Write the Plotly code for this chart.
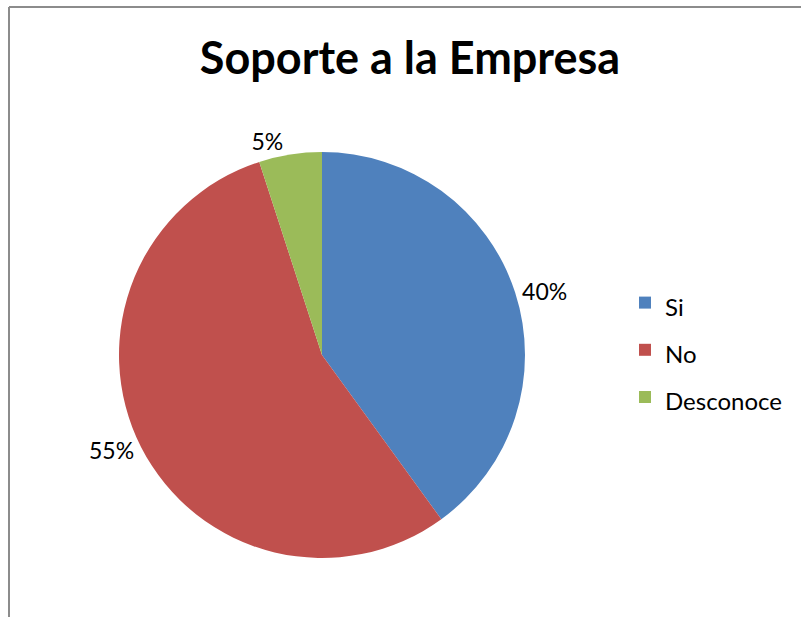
import plotly.graph_objects as go

categories = ["Si", "No", "Desconoce"]
values = [40, 55, 5]
colors = ["#4F81BD", "#C0504D", "#9BBB59"]
title_text = "Soporte a la Empresa"

W, H = 801, 617
cx, cy, r = 322, 355, 203

legend_labels = ['<span style="font-size:24px">%s</span>' % c for c in categories]

fig = go.Figure(go.Pie(
    labels=legend_labels,
    values=values,
    marker=dict(colors=colors, line=dict(width=0)),
    sort=False,
    direction="clockwise",
    rotation=0,
    textinfo="percent",
    texttemplate="%{percent:.0%}",
    textposition="outside",
    textfont=dict(family="Lato", size=23, color="#000000"),
    domain=dict(x=[(cx - r) / W, (cx + r) / W], y=[(H - cy - r) / H, (H - cy + r) / H]),
    hoverinfo="label+percent",
))

fig.update_layout(
    width=W, height=H,
    margin=dict(l=0, r=0, t=0, b=0),
    paper_bgcolor="white",
    plot_bgcolor="white",
    title=dict(text="<b>%s</b>" % title_text, font=dict(family="Lato", size=45, color="#000000"),
               x=410 / W, xanchor="center", y=1 - 58 / H, yanchor="middle"),
    legend=dict(x=625 / W, xanchor="left", y=1 - 350 / H, yanchor="middle",
                font=dict(family="Lato", size=34, color="#000000"), itemwidth=30,
                bgcolor="rgba(0,0,0,0)"),
    showlegend=True,
    shapes=[
        dict(type="line", xref="paper", yref="paper", x0=9 / W, x1=9 / W,
             y0=0, y1=1 - 7 / H, line=dict(color="#8C8C8C", width=2)),
        dict(type="line", xref="paper", yref="paper", x0=9 / W, x1=1,
             y0=1 - 7 / H, y1=1 - 7 / H, line=dict(color="#8C8C8C", width=2)),
    ],
)

fig.write_html(
    "out.html",
    config={"displayModeBar": False},
    post_script="document.body.style.margin='0';document.body.style.overflow='hidden';",
)
